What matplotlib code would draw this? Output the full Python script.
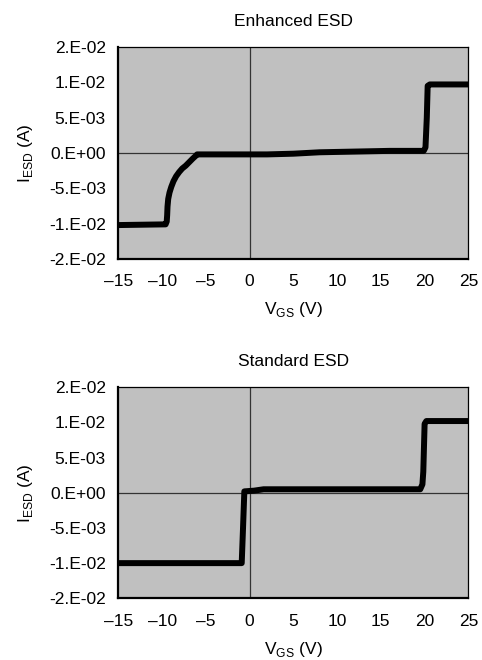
import matplotlib
matplotlib.use("Agg")
import matplotlib.pyplot as plt

plt.rcParams['font.family'] = ['Liberation Sans', 'DejaVu Sans']

# Data
enh_x = [-15, -9.6, -9.47, -9.42, -9.38, -9.3, -9.15, -8.95, -8.7, -8.4, -8.05,
         -7.7, -7.3, -6.9, -6.5, -6.15, -6.0,
         0, 2, 5, 8, 12, 16, 19.9, 20.1, 20.25, 20.35, 20.6, 25]
enh_y = [-0.0102, -0.0101, -0.0097, -0.0088, -0.0076, -0.0065, -0.0056, -0.0048,
         -0.0040, -0.0033, -0.0027, -0.0022, -0.0018, -0.0013, -0.0008, -0.0004,
         -0.0002,
         -0.0002, -0.0002, -0.0001, 0.0001, 0.0002, 0.0003, 0.0003, 0.0008,
         0.0050, 0.0095, 0.0097, 0.0097]

std_x = [-15, -0.9, -0.75, -0.6, 0.5, 1.6, 10, 19.5, 19.75, 19.85, 20.0, 20.2, 25]
std_y = [-0.0100, -0.0100, -0.0050, 0.0002, 0.0003, 0.0005, 0.0005, 0.0005,
         0.0012, 0.0030, 0.0098, 0.0102, 0.0102]

y_ticks = [-0.015, -0.01, -0.005, 0.0, 0.005, 0.01, 0.015]
y_labels = ["-2.E-02", "-1.E-02", "-5.E-03", "0.E+00", "5.E-03", "1.E-02", "2.E-02"]
x_ticks = [-15, -10, -5, 0, 5, 10, 15, 20, 25]
x_labels = ["\u201315", "\u201310", "\u20135", "0", "5", "10", "15", "20", "25"]

titles = ["Enhanced ESD", "Standard ESD"]

fig = plt.figure(figsize=(4.82, 6.60), dpi=100)
ax1 = fig.add_axes([0.2455, 0.6076, 0.7262, 0.3212])
ax2 = fig.add_axes([0.2455, 0.0935, 0.7262, 0.3197])

for ax, xs, ys, title in [(ax1, enh_x, enh_y, titles[0]), (ax2, std_x, std_y, titles[1])]:
    ax.set_facecolor('#c0c0c0')
    ax.axhline(0, color='#333333', lw=0.9, zorder=1)
    ax.axvline(0, color='#333333', lw=0.9, zorder=1)
    ax.plot(xs, ys, color='black', lw=4.3, solid_capstyle='round',
            solid_joinstyle='round', zorder=3)
    ax.set_xlim(-15, 25)
    ax.set_ylim(-0.015, 0.015)
    ax.set_xticks(x_ticks)
    ax.set_xticklabels(x_labels)
    ax.set_yticks(y_ticks)
    ax.set_yticklabels(y_labels)
    ax.tick_params(length=0, labelsize=12.5, colors='black')
    ax.tick_params(axis='x', pad=11)
    ax.tick_params(axis='y', pad=9)
    for s in ['left', 'bottom']:
        ax.spines[s].set_linewidth(1.6)
    for s in ['top', 'right']:
        ax.spines[s].set_linewidth(0.9)
    for s in ax.spines.values():
        s.set_color('black')
    ax.set_title(title, fontsize=12.5, pad=15)
    ax.set_xlabel(r'V$_{\mathregular{GS}}$ (V)', fontsize=12.5, labelpad=8)
    ax.set_ylabel(r'I$_{\mathregular{ESD}}$ (A)', fontsize=12.5, labelpad=10)

fig.savefig('out.png', dpi=100)
